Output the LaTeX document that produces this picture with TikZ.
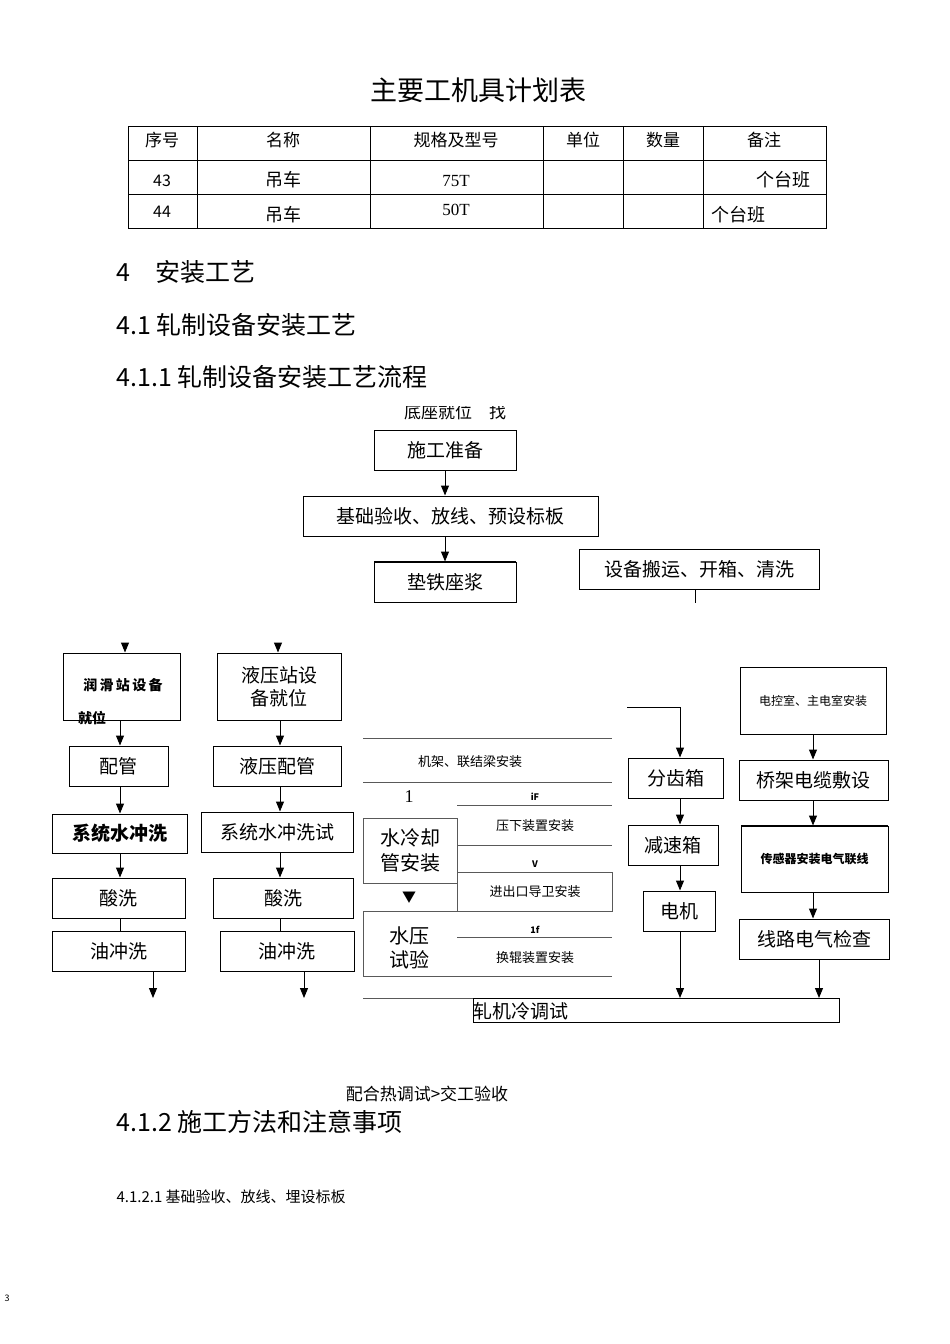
\documentclass[tikz,border=0pt]{standalone}
\usepackage{fontspec}
\usetikzlibrary{arrows.meta}
\setmainfont{Liberation Sans}
\newfontfamily\cjk{Noto Sans CJK SC}
\begin{document}
\begin{tikzpicture}[x=1pt,y=-1pt,font=\cjk,
 bx/.style={draw,line width=1pt},
 ar/.style={-{Triangle[length=10pt,width=8pt]},line width=1pt},
 hl/.style={line width=0.8pt,draw=gray!70!black}]
\useasboundingbox (0,0) rectangle (950,1344);
\node (title) at (478,90) {\fontsize{27}{30}\selectfont 主要工机具计划表};
% table
\draw[line width=0.7pt] (128,126) rectangle (826,228);
\foreach \y in {160,194} \draw[line width=0.7pt] (128,\y)--(826,\y);
\foreach \x in {197,370,543,623,703} \draw[line width=0.7pt] (\x,126)--(\x,228);
\foreach \x/\t in {162/序号,283/名称,456/规格及型号,583/单位,663/数量,764/备注}
  \node (h\x) at (\x,140) {\fontsize{17}{20}\selectfont \t};
\node (a1) at (162,181) {\fontsize{16}{18}\selectfont 43};
\node (a2) at (283,180) {\fontsize{18}{20}\selectfont 吊车};
\node (a3) at (456,181) {\fontsize{17}{20}\selectfont\setmainfont{Liberation Serif} 75T};
\node (a4) at (783,180) {\fontsize{18}{20}\selectfont 个台班};
\node (b1) at (162,212) {\fontsize{16}{18}\selectfont 44};
\node (b2) at (283,215) {\fontsize{18}{20}\selectfont 吊车};
\node (b3) at (456,210) {\fontsize{17}{20}\selectfont\setmainfont{Liberation Serif} 50T};
\node (b4) at (738,215) {\fontsize{18}{20}\selectfont 个台班};
\node[anchor=west] (s4) at (113,272) {\fontsize{25}{28}\selectfont 4\quad 安装工艺};
\node[anchor=west] (s41) at (113,325) {\fontsize{25}{28}\selectfont 4.1 轧制设备安装工艺};
\node[anchor=west] (s411) at (113,377) {\fontsize{25}{28}\selectfont 4.1.1 轧制设备安装工艺流程};
\begin{scope}
\clip (300,406) rectangle (600,420);
\node (cut) at (455,412) {\fontsize{17}{20}\selectfont 底座就位\quad 找};
\end{scope}
\def\fs{\fontsize{19}{22}\selectfont}
\node[bx,minimum width=142,minimum height=40] (n1) at (445,450) {\fs 施工准备};
\node[bx,minimum width=295,minimum height=40] (n2) at (450.5,516) {\fs 基础验收、放线、预设标板};
\node[bx,minimum width=142,minimum height=40] (n3) at (445,582) {\fs 垫铁座浆};
\draw[line width=2pt] (374,562)--(516,562);
\node[bx,minimum width=240,minimum height=40] (n4) at (699,569) {\fs 设备搬运、开箱、清洗};
\coordinate (n4e) at (695,603);
\draw[line width=0.8pt] (n4.south -| n4e) -- (n4e);
\draw[ar] (n1.south)--(n1.south|-n2.north); \draw[ar] (n1.south|-n2.south)--(n3.north);
% left columns
\coordinate (l1) at (125,643); \coordinate (l2) at (278,643);
\node[bx,minimum width=117,minimum height=67] (p1) at (121.5,686.5) {};
\node (p1t) at (123,685) {\fontsize{14}{16}\selectfont\bfseries 润\,滑\,站\,设\,备};
\node (p1u) at (92,718) {\fontsize{14}{16}\selectfont\bfseries 就位};
\node[bx,minimum width=124,minimum height=67,align=center] (q1) at (279,686.5) {\fs 液压站设\\[4pt]\fs 备就位};
\draw[ar] (l1)--(l1|-p1.north); \draw[ar] (l2)--(l2|-q1.north);
\node[bx,minimum width=99,minimum height=40] (p2) at (118.5,766) {\fs 配管};
\node[bx,minimum width=128,minimum height=40] (q2) at (277,766) {\fs 液压配管};
\node[bx,minimum width=135,minimum height=39] (p3) at (119.5,833.5) {\fs\bfseries 系统水冲洗};
\node[bx,minimum width=152,minimum height=40] (q3) at (277,832) {\fs 系统水冲洗试};
\node[bx,minimum width=133,minimum height=40] (p4) at (118.5,898) {\fs 酸洗};
\node[bx,minimum width=140,minimum height=40] (q4) at (283,898) {\fs 酸洗};
\node[bx,minimum width=133,minimum height=40] (p5) at (118.5,951) {\fs 油冲洗};
\node[bx,minimum width=134,minimum height=40] (q5) at (287,951) {\fs 油冲洗};
\coordinate (pe) at (153,998); \coordinate (qe) at (304,998);
\draw[ar] (p1.south-|120,0)--(p2.north-|120,0);
\draw[ar] (q1.south-|280,0)--(q2.north-|280,0);
\draw[ar] (p2.south-|120,0)--(p3.north-|120,0);
\draw[ar] (q2.south-|280,0)--(q3.north-|280,0);
\draw[ar] (p3.south-|120,0)--(p4.north-|120,0);
\draw[ar] (q3.south-|280,0)--(q4.north-|280,0);
\draw[line width=1pt] (p4.south-|120,0)--(p5.north-|120,0);
\draw[line width=1pt] (q4.south-|280,0)--(q5.north-|280,0);
\draw[ar] (pe|-p5.south)--(pe); \draw[ar] (qe|-q5.south)--(qe);
% middle
\def\ms{\fontsize{13}{15}\selectfont}
\draw[hl] (363,738)--(612,738); \draw[hl] (363,782)--(612,782);
\node (m1) at (470,762) {\ms 机架、联结梁安装};
\node (one) at (409,797) {\fontsize{18}{20}\selectfont\setmainfont{Liberation Serif}1};
\node (iF) at (535,797) {\fontsize{9}{10}\selectfont\bfseries iF};
\draw[hl] (457,805)--(612,805);
\node[draw,hl,text=black,minimum width=94,minimum height=65,align=center] (wc) at (410,850.5) {\fontsize{20}{24}\selectfont 水冷却\\[5pt]\fontsize{20}{24}\selectfont 管安装};
\node (m2) at (535,826) {\ms 压下装置安装};
\draw[hl] (457,845)--(612,845);
\node (V) at (535,864) {\fontsize{9}{10}\selectfont\bfseries V};
\draw[hl] (457,872) rectangle (612,911);
\node (m3) at (535,892) {\ms 进出口导卫安装};
\node (tri) at (409,898) {\fontsize{14}{16}\selectfont ▼};
\draw[hl] (612,911)--(363,911)--(363,976)--(612,976);
\node[align=center] (ws) at (409,948) {\fontsize{20}{24}\selectfont 水压\\[5pt]\fontsize{20}{24}\selectfont 试验};
\node (f1) at (535,930) {\fontsize{9}{10}\selectfont\bfseries 1\textit{f}};
\draw[hl] (457,937)--(612,937);
\node (m4) at (535,958) {\ms 换辊装置安装};
\draw[hl] (363,998)--(612,998);
% right columns
\coordinate (r0) at (627,707); \coordinate (r1) at (680,707);
\draw[line width=0.8pt] (r0)--(r1);
\node[bx,minimum width=95,minimum height=40] (g1) at (675.5,778) {\fs 分齿箱};
\node[bx,minimum width=90,minimum height=40] (g2) at (673,845) {\fs 减速箱};
\node[bx,minimum width=72,minimum height=40] (g3) at (679,911) {\fs 电机};
\draw[ar] (r1)--(r1|-g1.north);
\draw[ar] (r1|-g1.south)--(r1|-g2.north);
\draw[ar] (r1|-g2.south)--(r1|-g3.north);
\coordinate (ge) at (680,998);
\draw[ar] (ge|-g3.south)--(ge);
\draw[line width=0.8pt] (627,998)--(723,998);
\node[bx,minimum width=146,minimum height=67] (e1) at (813,700.5) {\fontsize{12}{14}\selectfont 电控室、主电室安装};
\node[bx,minimum width=149,minimum height=40] (e2) at (813.5,780) {\fs 桥架电缆敷设};
\node[bx,minimum width=147,minimum height=66] (e3) at (814.5,859) {\fontsize{12}{14}\selectfont\bfseries 传感器安装电气联线};
\draw[line width=2pt] (741,826)--(888,826);
\node[bx,minimum width=150,minimum height=40] (e4) at (814,939) {\fs 线路电气检查};
\draw[ar] (e1.south-|813,0)--(e2.north-|813,0);
\draw[ar] (e2.south-|813,0)--(e3.north-|813,0);
\draw[ar] (e3.south-|813,0)--(e4.north-|813,0);
\coordinate (ee) at (819,998);
\draw[ar] (ee|-e4.south)--(ee);
\node[draw,line width=0.8pt,minimum width=366,minimum height=24,anchor=north west,inner sep=0pt] (cold) at (473,998) {};
\node[anchor=west,inner sep=0pt] (coldt) at (473,1011) {\fontsize{19}{22}\selectfont 轧机冷调试};
\node (hot) at (427,1094) {\fontsize{17}{20}\selectfont 配合热调试>交工验收};
\node[anchor=west] (s412) at (113,1122) {\fontsize{25}{28}\selectfont 4.1.2 施工方法和注意事项};
\node[anchor=west] (s4121) at (113,1197) {\fontsize{15}{18}\selectfont 4.1.2.1 基础验收、放线、埋设标板};
\node (pg) at (7,1298) {\fontsize{9}{10}\selectfont 3};
\end{tikzpicture}
\end{document}
